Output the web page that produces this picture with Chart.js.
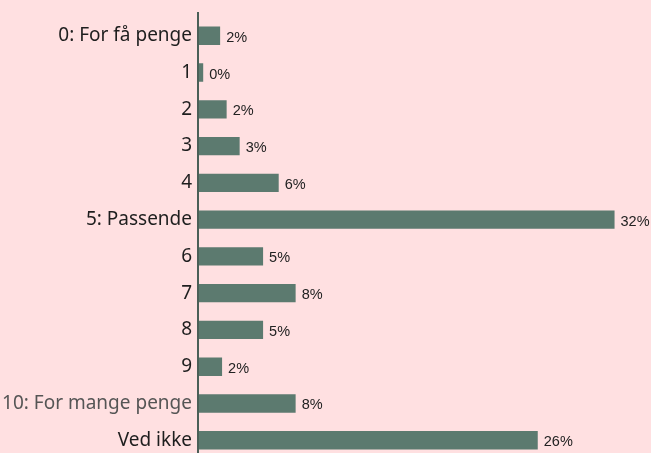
<!DOCTYPE html>
<html>
<head>
<meta charset="utf-8">
<script src="https://cdn.jsdelivr.net/npm/chart.js@4/dist/chart.umd.min.js"></script>
<style>
  html, body { margin: 0; padding: 0; background: #ffe0e1; overflow: hidden; }
  canvas { display: block; }
</style>
</head>
<body>
<canvas id="graph" width="651" height="476"></canvas>
<script>
// svar-kategorier og andele (%)
const categories = ['0: For få penge', '1', '2', '3', '4', '5: Passende', '6', '7', '8', '9', '10: For mange penge', 'Ved ikke'];
const shares = [1.7, 0.4, 2.2, 3.2, 6.2, 32, 5.0, 7.5, 5.0, 1.85, 7.5, 26.1];
const xMax = 34.8;

const barColor = '#5c7a6f';

// etiketter med procent til højre for søjlerne
const valueLabels = {
  id: 'valueLabels',
  afterDatasetsDraw(chart) {
    const ctx = chart.ctx;
    const meta = chart.getDatasetMeta(0);
    ctx.save();
    ctx.font = '14.5px "Liberation Sans", Arial, sans-serif';
    ctx.fillStyle = '#222';
    ctx.textBaseline = 'middle';
    meta.data.forEach((bar, i) => {
      ctx.fillText(Math.round(shares[i]) + '%', bar.x + 6, bar.y + 2);
    });
    ctx.restore();
  }
};

// lodret akselinje
const axisLine = {
  id: 'axisLine',
  afterDraw(chart) {
    const ctx = chart.ctx;
    const x = chart.chartArea.left;
    ctx.save();
    ctx.strokeStyle = '#4a5f57';
    ctx.lineWidth = 2;
    ctx.beginPath();
    ctx.moveTo(x, 12);
    ctx.lineTo(x, chart.height);
    ctx.stroke();
    ctx.restore();
  }
};

new Chart(document.getElementById('graph'), {
  type: 'bar',
  data: {
    labels: categories,
    datasets: [{
      data: shares,
      backgroundColor: barColor,
      borderWidth: 0,
      barPercentage: 0.5,
      categoryPercentage: 1.0
    }]
  },
  options: {
    indexAxis: 'y',
    responsive: false,
    animation: false,
    layout: { padding: { top: 16, bottom: 2, right: 0, left: 0 } },
    plugins: {
      legend: { display: false },
      tooltip: { enabled: false }
    },
    scales: {
      x: {
        display: false,
        min: 0,
        max: xMax
      },
      y: {
        grid: { display: false, drawTicks: false },
        border: { display: false },
        afterFit(scale) { scale.width = 198; },
        ticks: {
          padding: 6,
          color: (c) => c.index === 10 ? '#555' : '#1e1e1e',
          font: {
            family: '"Noto Sans", "Open Sans", sans-serif',
            size: 19
          }
        }
      }
    }
  },
  plugins: [valueLabels, axisLine]
});
</script>
</body>
</html>
